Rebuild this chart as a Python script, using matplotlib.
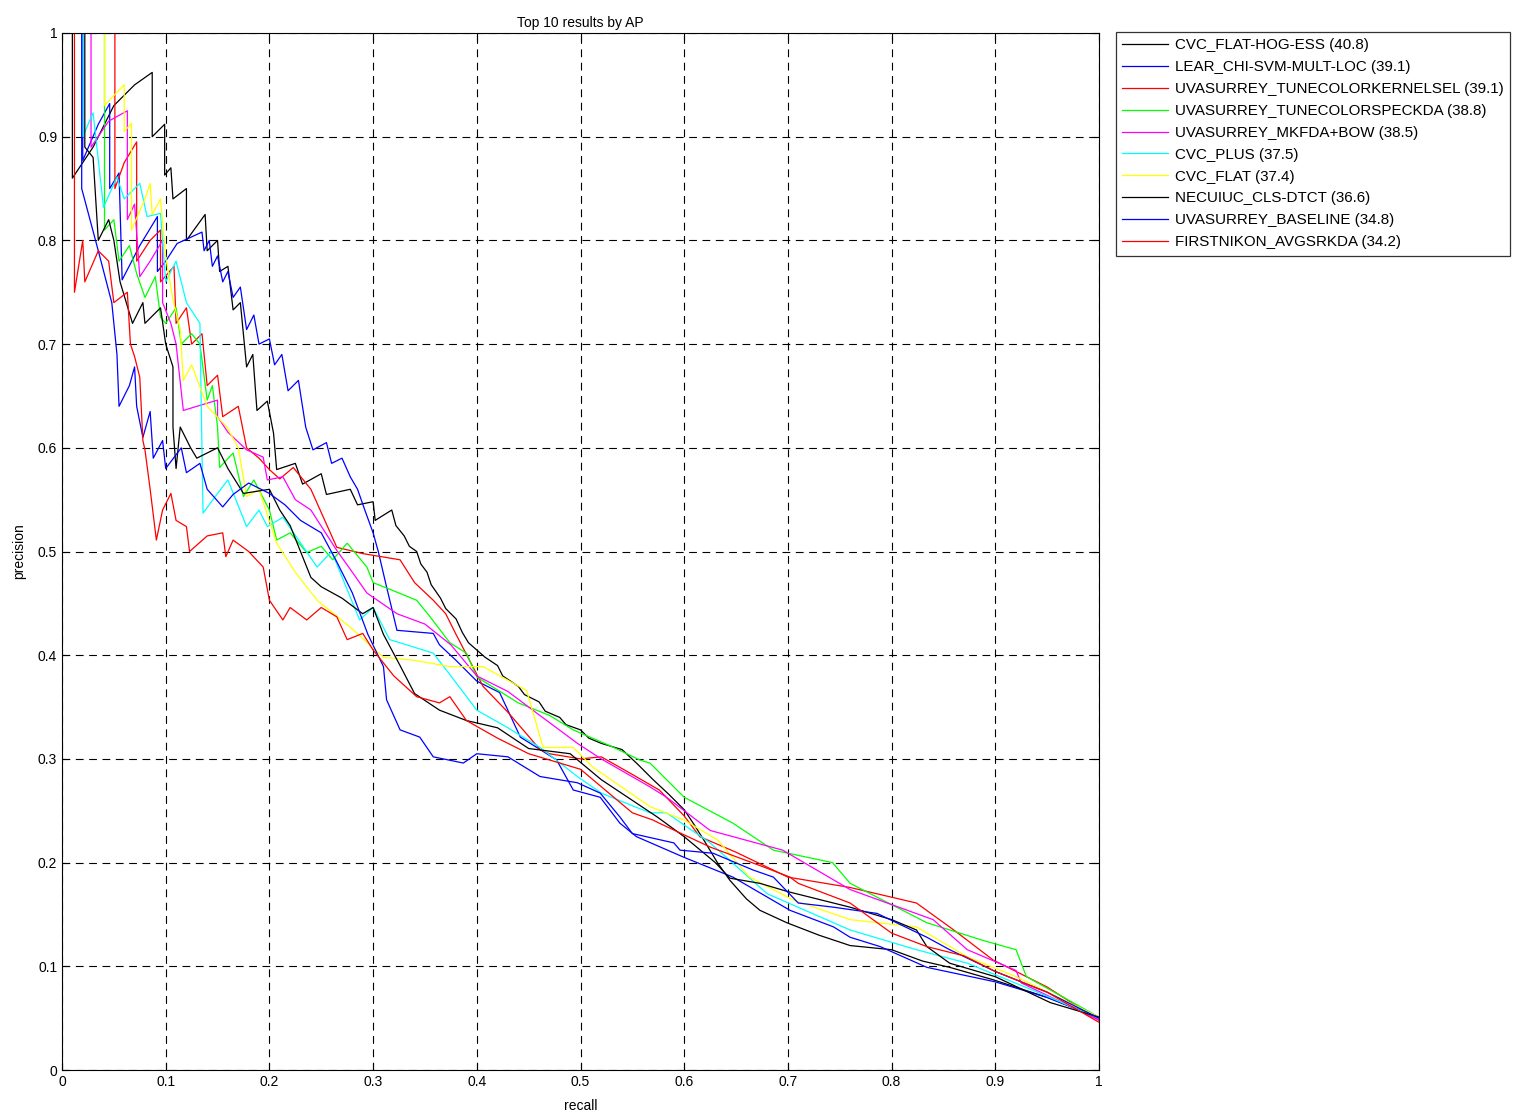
import matplotlib
matplotlib.use("Agg")
import matplotlib.pyplot as plt

plt.rcParams['font.family'] = ['Liberation Sans', 'DejaVu Sans']

# ---------------- data ----------------
names = ["CVC_FLAT-HOG-ESS (40.8)", "LEAR_CHI-SVM-MULT-LOC (39.1)",
         "UVASURREY_TUNECOLORKERNELSEL (39.1)", "UVASURREY_TUNECOLORSPECKDA (38.8)",
         "UVASURREY_MKFDA+BOW (38.5)", "CVC_PLUS (37.5)", "CVC_FLAT (37.4)",
         "NECUIUC_CLS-DTCT (36.6)", "UVASURREY_BASELINE (34.8)",
         "FIRSTNIKON_AVGSRKDA (34.2)"]
colors = ["#000000", "#0000ff", "#ff0000", "#00ff00", "#ff00ff",
          "#00ffff", "#ffff00", "#000000", "#0000ff", "#ff0000"]

pr_cvc_flat_hog_ess = [
    (0.000, 1.000), (0.010, 1.000), (0.010, 0.860), (0.030, 0.890), (0.050, 0.930),
    (0.070, 0.950), (0.087, 0.962), (0.087, 0.900), (0.099, 0.912), (0.099, 0.863),
    (0.105, 0.870), (0.107, 0.840), (0.120, 0.850), (0.120, 0.800), (0.138, 0.825),
    (0.140, 0.790), (0.150, 0.800), (0.152, 0.770), (0.160, 0.775), (0.165, 0.733),
    (0.172, 0.740), (0.178, 0.678), (0.184, 0.690), (0.188, 0.636), (0.198, 0.645),
    (0.204, 0.614), (0.207, 0.579), (0.225, 0.585), (0.232, 0.565), (0.250, 0.575),
    (0.255, 0.555), (0.278, 0.560), (0.285, 0.545), (0.300, 0.548), (0.302, 0.530),
    (0.318, 0.540), (0.322, 0.525), (0.330, 0.515), (0.335, 0.505), (0.342, 0.500),
    (0.346, 0.488), (0.352, 0.480), (0.356, 0.468), (0.365, 0.455), (0.370, 0.445),
    (0.380, 0.435), (0.386, 0.422), (0.392, 0.412), (0.400, 0.405), (0.408, 0.398),
    (0.420, 0.390), (0.425, 0.380), (0.440, 0.370), (0.446, 0.362), (0.460, 0.355),
    (0.466, 0.346), (0.480, 0.340), (0.486, 0.333), (0.500, 0.328), (0.508, 0.320),
    (0.520, 0.315), (0.540, 0.309), (0.555, 0.295), (0.570, 0.280), (0.585, 0.266),
    (0.600, 0.251), (0.610, 0.236), (0.620, 0.220), (0.632, 0.200), (0.644, 0.183),
    (0.660, 0.165), (0.673, 0.154), (0.699, 0.142), (0.730, 0.130), (0.760, 0.120),
    (0.800, 0.116), (0.830, 0.105), (0.856, 0.099), (0.898, 0.087), (0.950, 0.070),
    (1.000, 0.051)]

pr_lear = [
    (0.000, 1.000), (0.020, 1.000), (0.020, 0.877), (0.035, 0.912), (0.046, 0.932),
    (0.046, 0.850), (0.055, 0.865), (0.058, 0.762), (0.075, 0.795), (0.092, 0.823),
    (0.092, 0.770), (0.100, 0.780), (0.111, 0.797), (0.135, 0.808), (0.137, 0.790),
    (0.142, 0.800), (0.145, 0.775), (0.150, 0.785), (0.155, 0.760), (0.160, 0.770),
    (0.165, 0.745), (0.172, 0.755), (0.178, 0.714), (0.185, 0.728), (0.190, 0.700),
    (0.200, 0.705), (0.205, 0.680), (0.212, 0.690), (0.218, 0.655), (0.228, 0.665),
    (0.235, 0.620), (0.242, 0.598), (0.255, 0.605), (0.260, 0.585), (0.270, 0.590),
    (0.278, 0.572), (0.285, 0.560), (0.292, 0.540), (0.300, 0.518), (0.305, 0.500),
    (0.312, 0.470), (0.318, 0.445), (0.323, 0.424), (0.358, 0.421), (0.364, 0.410),
    (0.380, 0.395), (0.400, 0.375), (0.422, 0.364), (0.442, 0.321), (0.477, 0.299),
    (0.493, 0.270), (0.519, 0.263), (0.538, 0.238), (0.554, 0.225), (0.600, 0.205),
    (0.647, 0.186), (0.702, 0.154), (0.744, 0.138), (0.760, 0.128), (0.789, 0.119),
    (0.834, 0.099), (0.900, 0.085), (0.950, 0.070), (1.000, 0.050)]

pr_tunecolorkernelsel = [
    (0.000, 1.000), (0.051, 1.000), (0.051, 0.850), (0.060, 0.875), (0.072, 0.895),
    (0.072, 0.780), (0.085, 0.800), (0.095, 0.810), (0.095, 0.760), (0.108, 0.775),
    (0.110, 0.720), (0.120, 0.735), (0.125, 0.700), (0.135, 0.710), (0.140, 0.660),
    (0.150, 0.670), (0.155, 0.630), (0.170, 0.640), (0.178, 0.600), (0.190, 0.590),
    (0.200, 0.579), (0.210, 0.570), (0.223, 0.581), (0.240, 0.560), (0.265, 0.504),
    (0.290, 0.498), (0.326, 0.492), (0.340, 0.470), (0.358, 0.453), (0.370, 0.440),
    (0.380, 0.420), (0.406, 0.370), (0.430, 0.345), (0.461, 0.309), (0.470, 0.305),
    (0.500, 0.300), (0.520, 0.302), (0.550, 0.285), (0.576, 0.270), (0.600, 0.245),
    (0.615, 0.225), (0.650, 0.210), (0.700, 0.186), (0.760, 0.176), (0.824, 0.161),
    (0.860, 0.135), (0.898, 0.106), (0.950, 0.080), (1.000, 0.048)]

pr_tunecolorspeckda = [
    (0.000, 1.000), (0.041, 1.000), (0.041, 0.810), (0.050, 0.820), (0.055, 0.780),
    (0.065, 0.795), (0.072, 0.768), (0.080, 0.745), (0.090, 0.765), (0.095, 0.726),
    (0.100, 0.720), (0.110, 0.735), (0.115, 0.700), (0.125, 0.710), (0.133, 0.700),
    (0.140, 0.646), (0.145, 0.660), (0.150, 0.620), (0.152, 0.581), (0.165, 0.595),
    (0.175, 0.553), (0.185, 0.569), (0.200, 0.540), (0.207, 0.511), (0.220, 0.518),
    (0.236, 0.499), (0.250, 0.505), (0.261, 0.492), (0.275, 0.508), (0.294, 0.485),
    (0.300, 0.470), (0.320, 0.462), (0.342, 0.453), (0.355, 0.437), (0.374, 0.412),
    (0.390, 0.402), (0.400, 0.379), (0.440, 0.354), (0.470, 0.342), (0.493, 0.328),
    (0.530, 0.312), (0.557, 0.299), (0.567, 0.296), (0.600, 0.263), (0.647, 0.238),
    (0.686, 0.212), (0.743, 0.200), (0.760, 0.180), (0.834, 0.142), (0.888, 0.125),
    (0.920, 0.116), (0.930, 0.090), (1.000, 0.051)]

pr_mkfda_bow = [
    (0.000, 1.000), (0.028, 1.000), (0.028, 0.890), (0.045, 0.915), (0.063, 0.925),
    (0.063, 0.820), (0.070, 0.835), (0.075, 0.765), (0.085, 0.780), (0.097, 0.800),
    (0.097, 0.740), (0.105, 0.720), (0.110, 0.700), (0.117, 0.636), (0.130, 0.640),
    (0.150, 0.646), (0.150, 0.630), (0.160, 0.615), (0.178, 0.598), (0.194, 0.591),
    (0.198, 0.569), (0.213, 0.572), (0.225, 0.550), (0.240, 0.540), (0.265, 0.501),
    (0.280, 0.480), (0.294, 0.460), (0.323, 0.440), (0.350, 0.430), (0.375, 0.410),
    (0.400, 0.380), (0.430, 0.365), (0.454, 0.347), (0.497, 0.315), (0.520, 0.300),
    (0.567, 0.273), (0.583, 0.263), (0.625, 0.231), (0.695, 0.212), (0.760, 0.174),
    (0.840, 0.145), (0.873, 0.116), (0.920, 0.096), (0.925, 0.084), (1.000, 0.048)]

pr_cvc_plus = [
    (0.000, 1.000), (0.020, 1.000), (0.020, 0.900), (0.030, 0.923), (0.040, 0.832),
    (0.053, 0.861), (0.060, 0.840), (0.075, 0.855), (0.082, 0.823), (0.095, 0.826),
    (0.100, 0.760), (0.110, 0.780), (0.120, 0.740), (0.133, 0.720), (0.136, 0.537),
    (0.150, 0.556), (0.160, 0.569), (0.178, 0.524), (0.190, 0.540), (0.198, 0.524),
    (0.213, 0.533), (0.246, 0.485), (0.260, 0.500), (0.287, 0.434), (0.300, 0.446),
    (0.316, 0.415), (0.358, 0.402), (0.375, 0.380), (0.400, 0.347), (0.430, 0.330),
    (0.461, 0.311), (0.497, 0.283), (0.520, 0.267), (0.567, 0.248), (0.583, 0.248),
    (0.625, 0.219), (0.680, 0.170), (0.760, 0.135), (0.824, 0.116), (0.873, 0.103),
    (0.936, 0.077), (1.000, 0.050)]

pr_cvc_flat = [
    (0.000, 1.000), (0.041, 1.000), (0.041, 0.930), (0.055, 0.945), (0.060, 0.950),
    (0.060, 0.905), (0.067, 0.913), (0.067, 0.810), (0.080, 0.840), (0.085, 0.855),
    (0.087, 0.825), (0.095, 0.840), (0.100, 0.784), (0.107, 0.743), (0.114, 0.714),
    (0.117, 0.665), (0.125, 0.680), (0.140, 0.640), (0.159, 0.620), (0.170, 0.600),
    (0.178, 0.553), (0.190, 0.560), (0.207, 0.508), (0.225, 0.480), (0.246, 0.453),
    (0.278, 0.427), (0.310, 0.398), (0.340, 0.395), (0.374, 0.389), (0.406, 0.389),
    (0.448, 0.366), (0.464, 0.311), (0.493, 0.311), (0.512, 0.292), (0.567, 0.254),
    (0.600, 0.241), (0.632, 0.222), (0.663, 0.186), (0.705, 0.164), (0.760, 0.145),
    (0.824, 0.138), (0.873, 0.109), (0.920, 0.090), (1.000, 0.051)]

pr_necuiuc = [
    (0.000, 1.000), (0.022, 1.000), (0.022, 0.890), (0.030, 0.880), (0.035, 0.800),
    (0.045, 0.820), (0.050, 0.800), (0.056, 0.760), (0.062, 0.740), (0.068, 0.720),
    (0.078, 0.740), (0.080, 0.720), (0.095, 0.735), (0.100, 0.700), (0.107, 0.678),
    (0.107, 0.620), (0.110, 0.580), (0.114, 0.620), (0.124, 0.600), (0.130, 0.590),
    (0.150, 0.600), (0.160, 0.580), (0.175, 0.556), (0.200, 0.560), (0.210, 0.540),
    (0.220, 0.525), (0.230, 0.500), (0.240, 0.475), (0.250, 0.466), (0.270, 0.455),
    (0.290, 0.440), (0.300, 0.446), (0.310, 0.420), (0.326, 0.390), (0.340, 0.363),
    (0.364, 0.347), (0.390, 0.337), (0.420, 0.330), (0.450, 0.310), (0.490, 0.305),
    (0.520, 0.280), (0.574, 0.244), (0.600, 0.225), (0.630, 0.200), (0.644, 0.185),
    (0.673, 0.180), (0.700, 0.172), (0.760, 0.157), (0.800, 0.145), (0.824, 0.135),
    (0.834, 0.119), (0.856, 0.103), (0.900, 0.090), (0.953, 0.065), (1.000, 0.051)]

pr_baseline = [
    (0.000, 1.000), (0.019, 1.000), (0.019, 0.850), (0.035, 0.790), (0.048, 0.740),
    (0.053, 0.690), (0.055, 0.640), (0.065, 0.660), (0.070, 0.678), (0.072, 0.640),
    (0.078, 0.610), (0.085, 0.635), (0.088, 0.590), (0.097, 0.607), (0.100, 0.580),
    (0.115, 0.600), (0.120, 0.576), (0.133, 0.585), (0.140, 0.560), (0.155, 0.543),
    (0.165, 0.555), (0.180, 0.566), (0.200, 0.556), (0.215, 0.545), (0.230, 0.530),
    (0.250, 0.518), (0.265, 0.490), (0.280, 0.460), (0.295, 0.420), (0.310, 0.389),
    (0.313, 0.357), (0.326, 0.328), (0.345, 0.321), (0.358, 0.302), (0.387, 0.296),
    (0.400, 0.305), (0.430, 0.302), (0.461, 0.283), (0.497, 0.277), (0.519, 0.267),
    (0.538, 0.244), (0.550, 0.228), (0.590, 0.219), (0.596, 0.212), (0.628, 0.209),
    (0.666, 0.193), (0.686, 0.186), (0.710, 0.161), (0.744, 0.157), (0.786, 0.151),
    (0.834, 0.128), (0.856, 0.116), (0.900, 0.095), (0.950, 0.075), (1.000, 0.050)]

pr_firstnikon = [
    (0.000, 1.000), (0.012, 1.000), (0.012, 0.750), (0.020, 0.800), (0.022, 0.760),
    (0.035, 0.790), (0.045, 0.780), (0.050, 0.740), (0.063, 0.750), (0.066, 0.700),
    (0.070, 0.688), (0.075, 0.668), (0.078, 0.607), (0.080, 0.598), (0.085, 0.560),
    (0.091, 0.511), (0.097, 0.540), (0.105, 0.556), (0.110, 0.530), (0.120, 0.524),
    (0.123, 0.500), (0.140, 0.515), (0.155, 0.518), (0.158, 0.495), (0.165, 0.511),
    (0.180, 0.500), (0.194, 0.485), (0.200, 0.453), (0.213, 0.434), (0.220, 0.446),
    (0.236, 0.434), (0.250, 0.446), (0.265, 0.437), (0.275, 0.415), (0.290, 0.421),
    (0.300, 0.405), (0.320, 0.380), (0.342, 0.360), (0.364, 0.354), (0.374, 0.360),
    (0.390, 0.337), (0.420, 0.320), (0.450, 0.305), (0.500, 0.290), (0.550, 0.248),
    (0.570, 0.241), (0.576, 0.238), (0.625, 0.215), (0.676, 0.196), (0.702, 0.186),
    (0.710, 0.180), (0.760, 0.161), (0.800, 0.132), (0.834, 0.119), (0.870, 0.110),
    (0.900, 0.095), (0.950, 0.075), (1.000, 0.046)]

series = [pr_cvc_flat_hog_ess, pr_lear, pr_tunecolorkernelsel, pr_tunecolorspeckda,
          pr_mkfda_bow, pr_cvc_plus, pr_cvc_flat, pr_necuiuc, pr_baseline,
          pr_firstnikon]

ticks = [0, 0.1, 0.2, 0.3, 0.4, 0.5, 0.6, 0.7, 0.8, 0.9, 1]
tick_labels = ["0", "0.1", "0.2", "0.3", "0.4", "0.5", "0.6", "0.7", "0.8", "0.9", "1"]

# ---------------- figure ----------------
fig = plt.figure(figsize=(15.17, 11.12), dpi=100)
ax = fig.add_axes([62 / 1517, 42 / 1112, 1037 / 1517, 1037 / 1112])

handles = []
for pts, c, n in zip(series, colors, names):
    r = [p[0] for p in pts]
    pr = [p[1] for p in pts]
    h, = ax.plot(r, pr, color=c, lw=0.9, label=n)
    handles.append(h)

ax.set_xlim(0, 1)
ax.set_ylim(0, 1)
ax.set_xticks(ticks)
ax.set_xticklabels(tick_labels)
ax.set_yticks(ticks)
ax.set_yticklabels(tick_labels)
ax.tick_params(direction='in', top=True, right=True, labelsize=10, length=5)
ax.grid(True, color='black', linestyle=(0, (7, 5)), linewidth=0.8)
for s in ax.spines.values():
    s.set_linewidth(0.8)

ax.set_title("Top 10 results by AP", fontsize=10, pad=4)
ax.set_xlabel("recall", fontsize=10, labelpad=7)
ax.set_ylabel("precision", fontsize=10, labelpad=8)

leg = fig.legend(handles=handles, labels=names, loc='upper left',
                 bbox_to_anchor=(1116 / 1517, 1 - 32 / 1112),
                 fontsize=10.9, frameon=True, fancybox=False, edgecolor='black',
                 handlelength=3.0, handletextpad=0.45, labelspacing=0.52,
                 borderpad=0.42, borderaxespad=0)
leg.get_frame().set_linewidth(0.9)

fig.savefig("out.png", dpi=100)
